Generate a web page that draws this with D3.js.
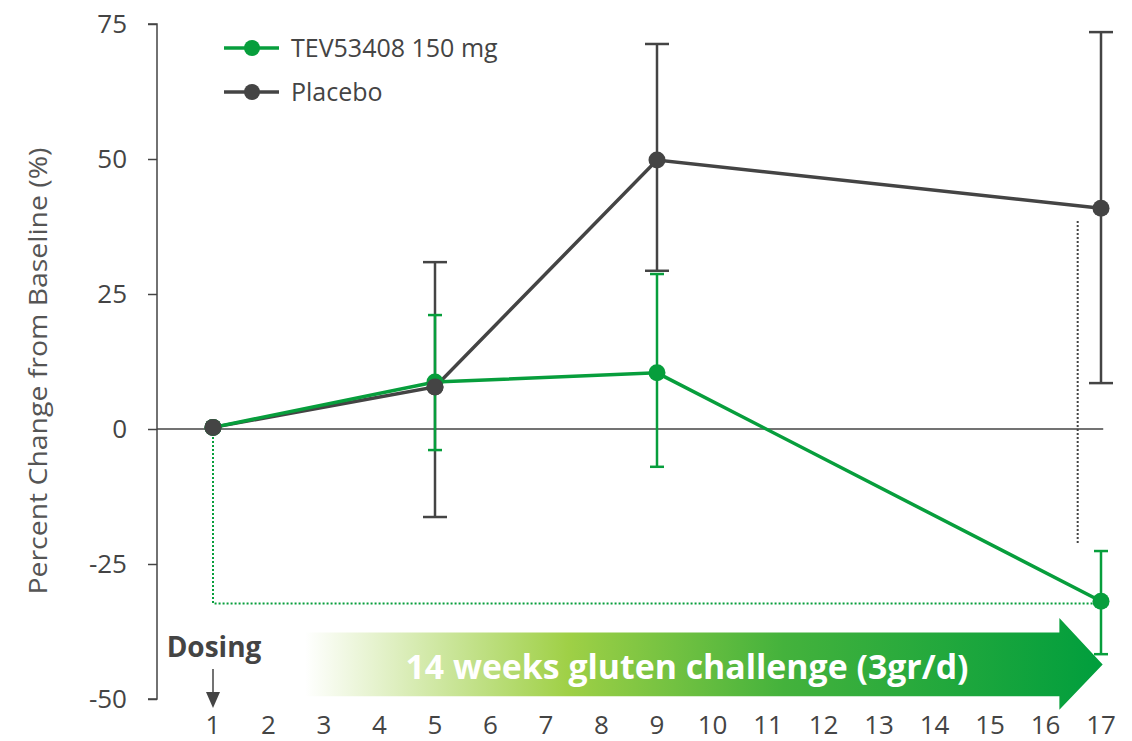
<!DOCTYPE html>
<html>
<head>
<meta charset="utf-8">
<script src="https://cdn.jsdelivr.net/npm/d3@7"></script>
<style>
  body { margin: 0; background: #fff; }
  text { font-family: "Open Sans", "Noto Sans", sans-serif; }
</style>
</head>
<body>
<svg id="chart"></svg>
<script>
(function () {

    // Data
    const weeks = [1, 5, 9, 17];
    const tevMean = [0.3, 8.7, 10.4, -31.9];
    const tevUpper = [0.3, 21.1, 28.7, -22.6];
    const tevLower = [0.3, -3.9, -7.0, -41.7];
    const placeboMean = [0.3, 7.8, 49.8, 40.9];
    const placeboUpper = [0.3, 30.9, 71.3, 73.5];
    const placeboLower = [0.3, -16.3, 29.3, 8.5];
    const xTicks = d3.range(1, 18);
    const yTicks = [-50, -25, 0, 25, 50, 75];
    const seriesNames = ["TEV53408 150 mg", "Placebo"];

    const green = "#079e3c";
    const dark = "#444444";

    const width = 1132, height = 741;

    const x = d3.scaleLinear().domain([1, 17]).range([213, 1101]);
    const y = d3.scaleLinear().domain([-50, 75]).range([699, 24]);

    const svg = d3.select("#chart")
        .attr("width", width)
        .attr("height", height);

    // Gradient for the challenge arrow
    const defs = svg.append("defs");
    const grad = defs.append("linearGradient")
        .attr("id", "arrowGrad")
        .attr("gradientUnits", "userSpaceOnUse")
        .attr("x1", 305).attr("x2", 1103).attr("y1", 0).attr("y2", 0);
    grad.append("stop").attr("offset", "0").attr("stop-color", "#ffffff");
    grad.append("stop").attr("offset", "0.33").attr("stop-color", "#9fd046");
    grad.append("stop").attr("offset", "0.6").attr("stop-color", "#44b23c");
    grad.append("stop").attr("offset", "1").attr("stop-color", "#009e3d");

    // Challenge arrow
    const shaftTop = y(-37.7), shaftBot = y(-49.5);
    const headTop = y(-35), headBot = y(-52), tipY = y(-43.6);
    const arrowPts = [
        [x(2.65), shaftTop], [x(16.25), shaftTop], [x(16.25), headTop],
        [x(17.03), tipY], [x(16.25), headBot], [x(16.25), shaftBot], [x(2.65), shaftBot]
    ];
    svg.append("path")
        .attr("d", d3.line()(arrowPts) + "Z")
        .attr("fill", "url(#arrowGrad)");

    svg.append("text")
        .attr("x", 687)
        .attr("y", 679)
        .attr("text-anchor", "middle")
        .attr("fill", "#fff")
        .attr("font-weight", "bold")
        .attr("font-size", 34)
        .attr("textLength", 563)
        .attr("lengthAdjust", "spacingAndGlyphs")
        .text("14 weeks gluten challenge (3gr/d)");

    // Y axis
    const yAxis = svg.append("g")
        .attr("transform", "translate(157,0)")
        .call(d3.axisLeft(y).tickValues(yTicks).tickSize(9).tickPadding(21)
            .tickFormat((d) => String(d)));
    yAxis.select(".domain").attr("stroke", dark).attr("stroke-width", 1.5)
        .attr("d", "M-9," + y(75) + "H0V" + y(-50) + "H-9");
    yAxis.selectAll(".tick line").attr("stroke", dark).attr("stroke-width", 1.5);
    yAxis.selectAll(".tick text")
        .attr("font-size", 26)
        .attr("fill", dark)
        .attr("font-family", "'Open Sans', 'Noto Sans', sans-serif");

    // X tick labels (no axis line)
    svg.append("g")
        .selectAll("text")
        .data(xTicks)
        .enter().append("text")
        .attr("x", (d) => x(d))
        .attr("y", 734)
        .attr("text-anchor", "middle")
        .attr("font-size", 26)
        .attr("fill", dark)
        .text((d) => d);

    // Zero line
    svg.append("line")
        .attr("x1", 157).attr("x2", x(17.04))
        .attr("y1", y(0)).attr("y2", y(0))
        .attr("stroke", dark).attr("stroke-width", 1.5);

    // Y axis title
    svg.append("text")
        .attr("transform", "translate(47," + 371 + ") rotate(-90)")
        .attr("text-anchor", "middle")
        .attr("font-size", 25)
        .attr("fill", "#555")
        .attr("textLength", 447)
        .attr("lengthAdjust", "spacingAndGlyphs")
        .text("Percent Change from Baseline (%)");

    // Dotted comparison lines
    svg.append("path")
        .attr("d", "M" + x(1) + "," + y(0) + "V" + y(-32.3) + "H" + x(16.9))
        .attr("fill", "none")
        .attr("stroke", green)
        .attr("stroke-width", 2)
        .attr("stroke-dasharray", "2,2");
    svg.append("line")
        .attr("x1", x(16.58)).attr("x2", x(16.58))
        .attr("y1", y(38.5)).attr("y2", y(-21.5))
        .attr("stroke", dark)
        .attr("stroke-width", 2)
        .attr("stroke-dasharray", "2,2");

    const line = d3.line()
        .x((d) => x(d[0]))
        .y((d) => y(d[1]));

    function drawSeries(mean, upper, lower, color, capHalf) {
        const g = svg.append("g");
        // error bars
        weeks.forEach((w, i) => {
            if (upper[i] === lower[i]) return;
            g.append("line")
                .attr("x1", x(w)).attr("x2", x(w))
                .attr("y1", y(upper[i])).attr("y2", y(lower[i]))
                .attr("stroke", color).attr("stroke-width", 2.5);
            [upper[i], lower[i]].forEach((v) => {
                g.append("line")
                    .attr("x1", x(w) - capHalf).attr("x2", x(w) + capHalf)
                    .attr("y1", y(v)).attr("y2", y(v))
                    .attr("stroke", color).attr("stroke-width", 2.5);
            });
        });
        g.append("path")
            .attr("d", line(weeks.map((w, i) => [w, mean[i]])))
            .attr("fill", "none")
            .attr("stroke", color)
            .attr("stroke-width", 3.5);
        g.selectAll("circle")
            .data(weeks)
            .enter().append("circle")
            .attr("cx", (d) => x(d))
            .attr("cy", (d, i) => y(mean[i]))
            .attr("r", 8.5)
            .attr("fill", color);
    }

    drawSeries(placeboMean, placeboUpper, placeboLower, dark, 12);
    drawSeries(tevMean, tevUpper, tevLower, green, 7);
    // placebo point on top at week 5 and week 1 (as in reference)
    svg.append("circle").attr("cx", x(5)).attr("cy", y(placeboMean[1])).attr("r", 8.5).attr("fill", dark);
    svg.append("circle").attr("cx", x(1)).attr("cy", y(placeboMean[0])).attr("r", 8.5).attr("fill", dark);

    // Legend
    const legendColors = [green, dark];
    const legend = svg.append("g")
        .selectAll("g")
        .data(seriesNames)
        .enter().append("g")
        .attr("transform", (d, i) => "translate(224," + (48 + i * 44) + ")");
    legend.append("line")
        .attr("x1", 0).attr("x2", 55)
        .attr("stroke", (d, i) => legendColors[i])
        .attr("stroke-width", 3.5);
    legend.append("circle")
        .attr("cx", 28).attr("r", 8)
        .attr("fill", (d, i) => legendColors[i]);
    legend.append("text")
        .attr("x", 67)
        .attr("y", 9)
        .attr("font-size", 25)
        .attr("fill", dark)
        .text((d) => d);

    // Dosing label and arrow
    svg.append("text")
        .attr("x", x(1) + 1)
        .attr("y", 657)
        .attr("text-anchor", "middle")
        .attr("font-size", 28)
        .attr("font-weight", "bold")
        .attr("fill", dark)
        .text("Dosing");
    svg.append("line")
        .attr("x1", x(1)).attr("x2", x(1))
        .attr("y1", 669).attr("y2", 696)
        .attr("stroke", dark).attr("stroke-width", 1.5);
    svg.append("path")
        .attr("d", "M" + (x(1) - 7) + ",692L" + (x(1) + 7) + ",692L" + x(1) + ",708Z")
        .attr("fill", dark);
})();
</script>
</body>
</html>
